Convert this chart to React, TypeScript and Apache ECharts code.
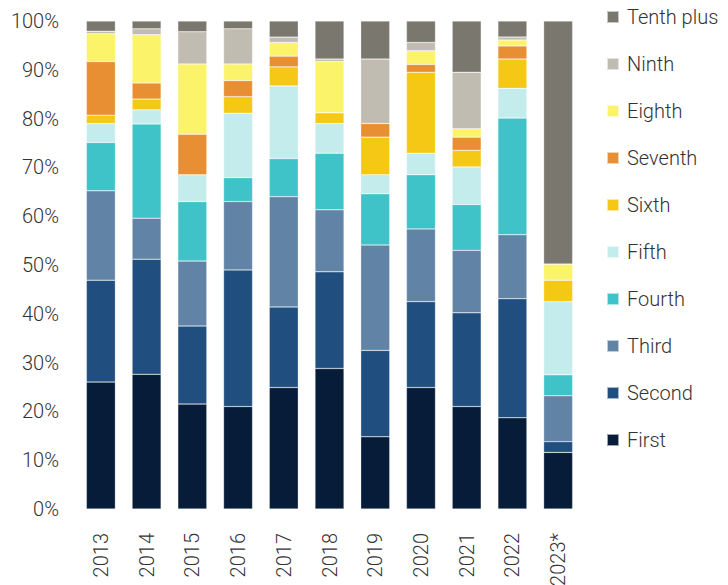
import React, { useEffect, useRef } from "react";
import * as echarts from "echarts";

const years = ["2013", "2014", "2015", "2016", "2017", "2018", "2019", "2020", "2021", "2022", "2023*"];
const seriesNames = ["First", "Second", "Third", "Fourth", "Fifth", "Sixth", "Seventh", "Eighth", "Ninth", "Tenth plus"];
const colors = ["#061c38", "#1f4e7f", "#6183a6", "#3fc3c8", "#c5ecec", "#f5c816", "#e88f34", "#fbf36a", "#c0bcb2", "#7a776e"];

const first = [26.0, 27.6, 21.5, 21.0, 24.9, 28.8, 14.8, 24.9, 21.0, 18.7, 11.6];
const second = [20.9, 23.6, 16.0, 28.0, 16.5, 19.8, 17.7, 17.6, 19.2, 24.4, 2.2];
const third = [18.3, 8.4, 13.3, 14.0, 22.6, 12.7, 21.6, 14.9, 12.8, 13.1, 9.4];
const fourth = [9.9, 19.3, 12.2, 4.9, 7.8, 11.6, 10.5, 11.1, 9.4, 23.9, 4.3];
const fifth = [3.9, 2.9, 5.5, 13.2, 14.9, 6.1, 3.9, 4.4, 7.7, 6.1, 15.0];
const sixth = [1.7, 2.2, 0, 3.4, 3.9, 2.2, 7.7, 16.6, 3.4, 6.0, 4.4];
const seventh = [11.0, 3.3, 8.3, 3.3, 2.2, 0, 2.8, 1.6, 2.7, 2.7, 0];
const eighth = [5.7, 9.9, 14.4, 3.4, 2.8, 10.5, 0, 2.8, 1.7, 1.2, 3.3];
const ninth = [0.5, 1.2, 6.6, 7.2, 1.1, 0.5, 13.2, 1.7, 11.6, 0.6, 0];
const tenthPlus = [2.1, 1.6, 2.2, 1.6, 3.3, 7.8, 7.8, 4.4, 10.5, 3.3, 49.8];

const allValues = [first, second, third, fourth, fifth, sixth, seventh, eighth, ninth, tenthPlus];

const FONT = "Roboto, 'Liberation Sans', sans-serif";
const TEXT_COLOR = "#333";

export default function App() {
  const ref = useRef<HTMLDivElement>(null);
  useEffect(() => {
    document.body.style.margin = "0";
    if (!ref.current) return;
    const chart = echarts.init(ref.current, null, { renderer: "svg" });
    chart.setOption({
      animation: false,
      color: colors,
      textStyle: { fontFamily: FONT },
      grid: { left: 78, right: 147, top: 21, bottom: 76, outerBoundsMode: "none", containLabel: false },
      legend: {
        orient: "vertical",
        left: 601,
        top: 1,
        itemWidth: 12,
        itemHeight: 12,
        itemGap: 25,
        icon: "rect",
        data: [...seriesNames].reverse(),
        textStyle: {
          fontFamily: FONT,
          fontSize: 20,
          fontWeight: 300,
          lineHeight: 22,
          color: TEXT_COLOR,
          padding: [0, 0, 0, 3],
        },
      },
      xAxis: {
        type: "category",
        data: years,
        axisLine: { show: false },
        axisTick: { show: false },
        axisLabel: {
          rotate: 90,
          margin: 24,
          fontSize: 20,
          fontWeight: 300,
          color: TEXT_COLOR,
          fontFamily: FONT,
          padding: [5, 0, 0, 0],
        },
      },
      yAxis: {
        type: "value",
        min: 0,
        max: 100,
        interval: 10,
        splitLine: { show: false },
        axisLine: { show: false },
        axisTick: { show: false },
        axisLabel: {
          formatter: "{value}%",
          fontSize: 20,
          fontWeight: 300,
          color: TEXT_COLOR,
          margin: 19,
          fontFamily: FONT,
        },
      },
      series: seriesNames.map((name, i) => ({
        name,
        type: "bar",
        stack: "total",
        barWidth: 29,
        data: allValues[i],
        itemStyle: { color: colors[i], borderColor: "rgba(255,255,255,0.6)", borderWidth: 0.5 },
      })),
    });
    return () => chart.dispose();
  }, []);
  return <div ref={ref} style={{ width: 728, height: 585 }} />;
}
